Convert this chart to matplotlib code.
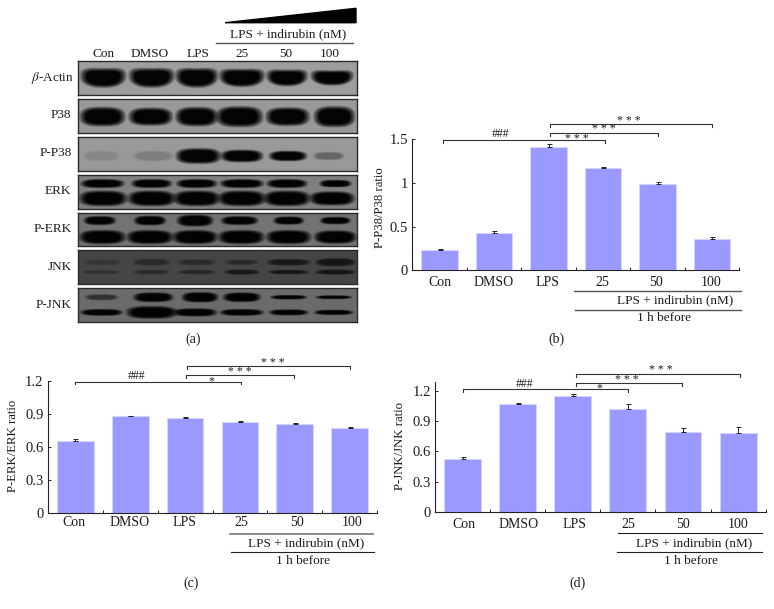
import numpy as np
import matplotlib
matplotlib.use('Agg')
import matplotlib.pyplot as plt
from matplotlib.patches import Polygon

plt.rcParams['font.family'] = ['Liberation Serif', 'DejaVu Serif']
plt.rcParams['mathtext.fontset'] = 'stix'

W, H = 774, 609
TXT = '#1c1c1c'
BAR = '#9999ff'
EDGE = '#d4d4ff'

# bar values
groups = ['Con', 'DMSO', 'LPS', '25', '50', '100']
p38_vals = [0.228, 0.423, 1.412, 1.165, 0.99, 0.358]
p38_errs = [0.012, 0.027, 0.03, 0.015, 0.015, 0.019]
erk_vals = [0.656, 0.878, 0.86, 0.827, 0.808, 0.775]
erk_errs = [0.012, 0.006, 0.015, 0.012, 0.01, 0.01]
jnk_vals = [0.52, 1.065, 1.144, 1.019, 0.788, 0.778]
jnk_errs = [0.02, 0.017, 0.026, 0.046, 0.04, 0.067]

# brackets: x from, x to, level, label, label x, label level
p38_brackets = [(0.57, 3.54, 1.485, '###', 1.62, 1.555), (2.53, 4.51, 1.568, '* * *', 3.52, 1.61),
                (2.53, 5.5, 1.667, '* * *', 3.97, 1.71), (2.5, 2.5, 1.485, '* * *', 3.02, 1.5)]
erk_brackets = [(0.5, 3.52, 1.195, '###', 1.61, 1.245), (2.52, 4.49, 1.255, '* * *', 3.5, 1.285),
                (2.53, 5.5, 1.337, '* * *', 4.09, 1.36), (2.5, 2.5, 1.195, '*', 2.98, 1.2)]
jnk_brackets = [(0.51, 3.5, 1.213, '###', 1.62, 1.265), (2.55, 4.49, 1.276, '* * *', 3.48, 1.31),
                (2.55, 5.53, 1.365, '* * *', 4.09, 1.405), (2.52, 2.52, 1.213, '*', 2.98, 1.225)]

# blot rows
blot_names = [r'$\mathit{\beta}$-Actin', 'P38', 'P-P38', 'ERK', 'P-ERK', 'JNK', 'P-JNK']
blot_tops = [61, 99, 137, 175, 212.7, 250.3, 288.3]
blot_bg = [0.62, 0.6, 0.6, 0.5, 0.45, 0.27, 0.42]
blot_bow = [6, 0, 0, 0, 0, 0, 0]
lane_x = [75, 220, 355, 490, 625, 760]

# each band tier: row, y, x offsets, half widths, half heights, darkness
tiers = [
    (0, 50, [0, 0, 0, 0, 0, 0], [62, 62, 58, 62, 56, 58], [26, 26, 26, 24, 22, 20], [1, 1, 1, 1, 1, 1]),
    (1, 52, [-2, -3, 0, -7, 2, 7], [62, 60, 58, 64, 60, 56], [26, 24, 26, 28, 25, 28], [1, 1, 1, 1, 1, 1]),
    (2, 56, [-5, 5, 5, 0, 3, -10], [50, 55, 62, 58, 52, 42], [14, 14, 21, 17, 14, 11], [0.12, 0.18, 1, 1, 1, 0.35]),
    (3, 25, [-2, 0, 0, 0, 0, 10], [60, 56, 56, 60, 56, 44], [12, 12, 12, 12, 12, 10], [1, 1, 1, 1, 1, 1]),
    (3, 69, [0, 0, 0, 0, 0, 0], [66, 66, 64, 66, 64, 62], [21, 21, 21, 21, 21, 19], [1, 1, 1, 1, 1, 1]),
    (4, 25, [-10, -5, -5, -7, 5, 10], [44, 44, 50, 51, 42, 42], [12, 13, 16, 12, 11, 10], [1, 1, 1, 1, 1, 1]),
    (4, 74, [-2, -5, -5, -2, 5, 10], [64, 64, 62, 64, 62, 58], [19, 19, 19, 19, 19, 18], [1, 1, 1, 1, 1, 1]),
    (5, 36, [-5, 0, 0, 0, 5, 10], [50, 50, 50, 45, 60, 55], [7, 9, 8, 7, 9, 11], [0.25, 0.4, 0.4, 0.4, 0.65, 0.7]),
    (5, 65, [-5, 0, 0, 0, 5, 10], [50, 50, 50, 48, 55, 55], [5, 6, 6, 7, 6, 7], [0.3, 0.4, 0.45, 0.65, 0.7, 0.7]),
    (6, 27, [-5, 5, 10, 0, 5, 5], [45, 55, 50, 52, 50, 50], [8, 13, 14, 13, 6, 5], [0.55, 1, 1, 1, 1, 1]),
    (6, 72, [-5, 0, -5, 0, 5, 5], [58, 70, 60, 60, 54, 54], [9, 17, 11, 9, 8, 7], [1, 1, 1, 1, 1, 1]),
]


def px_axes(x0, y_top, x1, y_bot):
    return fig.add_axes([x0 / W, 1 - y_bot / H, (x1 - x0) / W, (y_bot - y_top) / H])


def put(x, y, s, **kw):
    kw.setdefault('ha', 'center')
    kw.setdefault('va', 'center')
    kw.setdefault('color', TXT)
    kw.setdefault('fontsize', 9)
    fig.text(x / W, 1 - y / H, s, **kw)


def hline(x0, x1, y, color='#333333', lw=0.8):
    fig.add_artist(plt.Line2D([x0 / W, x1 / W], [1 - y / H, 1 - y / H], color=color, lw=lw))


def blot_image(row):
    yy, xx = np.mgrid[0:101, 0:835]
    img = np.full(xx.shape, blot_bg[row], dtype=float)
    for t in tiers:
        if t[0] != row:
            continue
        for cx, off, hw, hh, dk in zip(lane_x, t[2], t[3], t[4], t[5]):
            u = (xx - cx - off) / hw
            d = np.abs(u) ** 3 + np.abs((yy - t[1] + blot_bow[row] * u ** 2) / hh) ** 2.6
            img *= 1 - 0.97 * dk * np.clip((1.6 - d) / 1.1, 0, 1)
    return img


def draw_bar_panel(x0, y_top, x1, y_bot, ymax, vals, errs, yticks, ylabels, brackets):
    ax = px_axes(x0, y_top, x1, y_bot)
    pos = np.arange(6) + 0.5
    ax.bar(pos, vals, width=0.67, color=BAR, edgecolor=EDGE, linewidth=0.8)
    ax.errorbar(pos, vals, yerr=[np.zeros(6), errs], fmt='none', ecolor='#222222',
                elinewidth=0.7, capsize=1.8, capthick=0.7)
    ax.set_xlim(0, 6)
    ax.set_ylim(0, ymax)
    ax.set_yticks(yticks)
    ax.set_yticklabels(ylabels)
    ax.set_xticks(range(7))
    ax.set_xticklabels([])
    ax.tick_params(axis='both', direction='in', length=2.5, width=0.7, color='#222222',
                   labelsize=10.5, labelcolor=TXT, pad=3)
    for s in ['top', 'right']:
        ax.spines[s].set_visible(False)
    for s in ['left', 'bottom']:
        ax.spines[s].set_linewidth(0.8)
        ax.spines[s].set_color('#222222')
    for xa, xb, lvl, lab, lx, ly in brackets:
        if xa != xb:
            tip = ymax * 0.022
            ax.plot([xa, xa, xb, xb], [lvl - tip, lvl, lvl, lvl - tip], color='#333333',
                    lw=0.8, clip_on=False)
        ax.text(lx, ly, lab, ha='center', va='center', fontsize=8.5, color=TXT, clip_on=False)
    return ax


fig = plt.figure(figsize=(W / 100, H / 100), dpi=100)

# panel a
for i, name in enumerate(blot_names):
    ax = px_axes(78.3, blot_tops[i], 356.7, blot_tops[i] + 33.7)
    ax.imshow(blot_image(i), cmap='gray', vmin=0, vmax=1, aspect='auto', interpolation='bilinear')
    ax.set_xticks([])
    ax.set_yticks([])
    for s in ax.spines.values():
        s.set_linewidth(1.0)
        s.set_color('#2a2a2a')
    put(74 if i == 0 else 71.5, blot_tops[i] + 16.5, name, ha='right', fontsize=9.5)

for xc, g in zip([104, 150, 198, 242, 286, 330], groups):
    put(xc, 54, g, fontsize=9.5)
put(288, 34, 'LPS + indirubin (nM)', fontsize=9.5)
hline(216, 353, 43, color='#555555', lw=1)
fig.add_artist(Polygon([(225 / W, 1 - 22.7 / H), (356 / W, 1 - 8.3 / H), (356 / W, 1 - 22.7 / H)],
                       closed=True, color='black', transform=fig.transFigure))
put(193.5, 339, '(a)', fontsize=10)

# panel b
draw_bar_panel(412.3, 139, 739.3, 270.3, 1.5, p38_vals, p38_errs, [0, 0.5, 1, 1.5], ['0', '0.5', '1', '1.5'], p38_brackets)
for i, g in enumerate(groups):
    put([439.5, 494, 548, 602, 656, 711][i], 282, g, fontsize=10)
hline(574, 741, 291, color='#555555', lw=1)
put(675, 300, 'LPS + indirubin (nM)', fontsize=9.5)
hline(575, 741, 310, color='#555555', lw=1)
put(664, 318, '1 h before', fontsize=9.5)
put(556, 339, '(b)', fontsize=10)
put(380, 208, 'P-P38/P38 ratio', rotation=90, fontsize=9.2)

# panel c
draw_bar_panel(47.7, 381, 377.3, 512.7, 1.2, erk_vals, erk_errs, [0, 0.3, 0.6, 0.9, 1.2], ['0', '0.3', '0.6', '0.9', '1.2'], erk_brackets)
for i, g in enumerate(groups):
    put([74, 130, 185, 241, 297, 352][i], 522, g, fontsize=10)
hline(230, 373, 533.5, color='#777777', lw=1.2)
put(306, 543, 'LPS + indirubin (nM)', fontsize=9.5)
hline(231, 374, 551.5, color='#222222', lw=0.8)
put(303, 561, '1 h before', fontsize=9.5)
put(191, 583, '(c)', fontsize=10)
put(13, 446, 'P-ERK/ERK ratio', rotation=90, fontsize=9.2)

# panel d
draw_bar_panel(435, 381.7, 765.7, 512, 1.289, jnk_vals, jnk_errs, [0, 0.3, 0.6, 0.9, 1.2], ['0', '0.3', '0.6', '0.9', '1.2'], jnk_brackets)
for i, g in enumerate(groups):
    put([464, 519, 575, 628, 683, 738][i], 524, g, fontsize=10)
hline(618, 762, 533, color='#222222', lw=0.8)
put(694, 543, 'LPS + indirubin (nM)', fontsize=9.5)
hline(617, 762, 551.5, color='#222222', lw=0.8)
put(691, 561, '1 h before', fontsize=9.5)
put(578, 583, '(d)', fontsize=10)
put(400, 446, 'P-JNK/JNK ratio', rotation=90, fontsize=9.2)

fig.savefig('out.png', dpi=100)
